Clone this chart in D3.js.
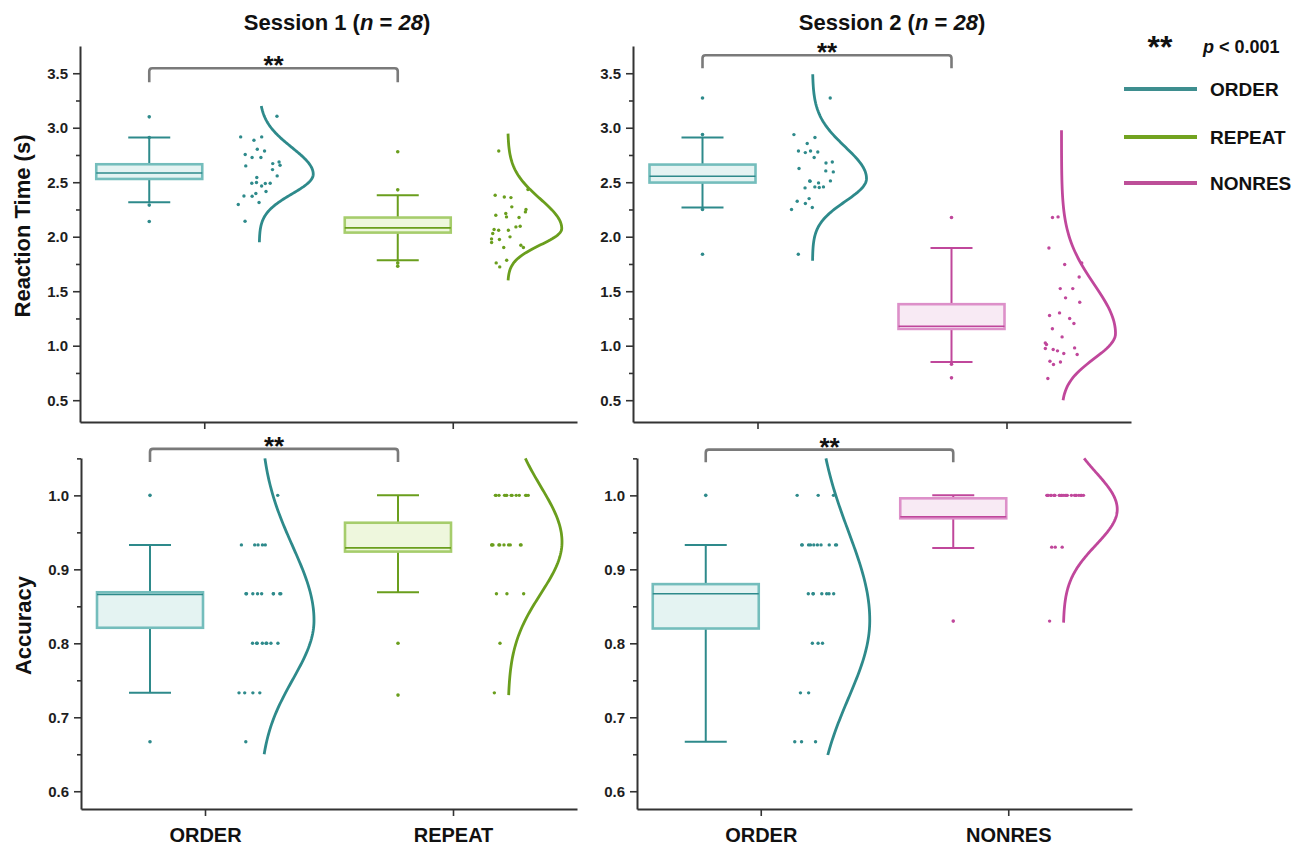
<!DOCTYPE html>
<html>
<head>
<meta charset="utf-8">
<script src="https://cdn.jsdelivr.net/npm/d3@7"></script>
<style>
  body { margin: 0; background: #fff; }
  svg { display: block; font-family: Arial, "Liberation Sans", sans-serif; }
</style>
</head>
<body>
<script>
// categories per session
const groupsS1 = ["ORDER", "REPEAT"];
const groupsS2 = ["ORDER", "NONRES"];

// tick values
const rtTicks = [0.5, 1.0, 1.5, 2.0, 2.5, 3.0, 3.5];
const rtMinor = [0.75, 1.25, 1.75, 2.25, 2.75, 3.25];
const accTicks = [0.6, 0.7, 0.8, 0.9, 1.0];
const accMinor = [0.65, 0.75, 0.85, 0.95, 1.05];

// single subject values (n = 28)
const rtS1Order = [3.105, 2.916, 2.916, 2.885, 2.803, 2.787, 2.754, 2.727, 2.727, 2.686, 2.671, 2.65, 2.656, 2.616,
  2.543, 2.558, 2.497, 2.488, 2.49, 2.49, 2.466, 2.415, 2.396, 2.374, 2.372, 2.314, 2.296, 2.142];
const rtS1Repeat = [2.787, 2.365, 2.381, 2.359, 2.433, 2.228, 2.182, 2.176, 2.274, 2.25, 2.213, 2.197, 2.09, 2.096,
  2.06, 2.06, 2.029, 1.98, 1.974, 1.947, 1.922, 1.999, 1.901, 1.901, 1.784, 1.76, 1.723, 2.066];
const rtS2Order = [3.273, 2.937, 2.91, 2.855, 2.787, 2.778, 2.787, 2.772, 2.727, 2.686, 2.677, 2.626, 2.595, 2.604,
  2.509, 2.512, 2.512, 2.494, 2.448, 2.457, 2.457, 2.451, 2.35, 2.326, 2.305, 2.268, 2.25, 1.839];
const rtS2Nonres = [2.176, 2.182, 1.897, 1.745, 1.76, 1.631, 1.524, 1.524, 1.439, 1.399, 1.301, 1.277, 1.25, 1.204,
  1.155, 1.081, 1.011, 1.026, 0.965, 0.974, 0.98, 0.929, 0.953, 0.919, 0.851, 0.858, 0.827, 0.699];

const accS1Order = [1.0, 0.933, 0.933, 0.933, 0.933, 0.933, 0.867, 0.867, 0.867, 0.867, 0.867, 0.867, 0.867, 0.867,
  0.867, 0.8, 0.8, 0.8, 0.8, 0.8, 0.8, 0.8, 0.8, 0.733, 0.733, 0.733, 0.733, 0.667];
const accS1Repeat = [1.0, 1.0, 1.0, 1.0, 1.0, 1.0, 1.0, 1.0, 1.0, 1.0, 1.0, 1.0, 1.0, 0.933,
  0.933, 0.933, 0.933, 0.933, 0.933, 0.933, 0.933, 0.933, 0.933, 0.867, 0.867, 0.867, 0.8, 0.733];
const accS2Order = [1.0, 1.0, 1.0, 0.933, 0.933, 0.933, 0.933, 0.933, 0.933, 0.933, 0.933, 0.933, 0.933, 0.867,
  0.867, 0.867, 0.867, 0.867, 0.867, 0.867, 0.8, 0.8, 0.8, 0.733, 0.733, 0.667, 0.667, 0.667];
const accS2Nonres = [1.0, 1.0, 1.0, 1.0, 1.0, 1.0, 1.0, 1.0, 1.0, 1.0, 1.0, 1.0, 1.0, 1.0,
  1.0, 1.0, 1.0, 1.0, 1.0, 1.0, 1.0, 1.0, 1.0, 1.0, 0.93, 0.93, 0.93, 0.83];

// box stats: [whisker low, q1, median, q3, whisker high]
const boxRtS1 = [[2.317, 2.53, 2.585, 2.665, 2.91], [1.784, 2.038, 2.081, 2.176, 2.381]];
const boxRtS2 = [[2.268, 2.497, 2.555, 2.662, 2.91], [0.851, 1.154, 1.179, 1.381, 1.897]];
const boxAccS1 = [[0.733, 0.821, 0.866, 0.869, 0.933], [0.869, 0.924, 0.929, 0.963, 1.0]];
const boxAccS2 = [[0.667, 0.82, 0.867, 0.88, 0.933], [0.929, 0.969, 0.971, 0.996, 1.0]];

// marker dots drawn on the box column
const markRtS1 = [[3.1, 2.91, 2.29, 2.14], [2.78, 2.43, 1.76, 1.73]];
const markRtS2 = [[3.273, 2.937, 2.25, 1.839], [2.176, 0.83, 0.705]];
const markAccS1 = [[1.0, 0.667], [0.8, 0.73]];
const markAccS2 = [[1.0], [0.83]];

// fitted curves: [mode, sigma below, sigma above, from, to]
const fitRtS1 = [[2.573, 0.18, 0.245, 1.95, 3.2], [2.075, 0.15, 0.27, 1.6, 2.946]];
const fitRtS2 = [[2.534, 0.21, 0.29, 1.78, 3.49], [1.112, 0.23, 0.45, 0.5, 2.977]];
const fitAccS1 = [[0.831, 0.08, 0.1, 0.65, 1.05], [0.937, 0.07, 0.075, 0.73, 1.05]];
const fitAccS2 = [[0.831, 0.105, 0.12, 0.649, 1.05], [0.981, 0.048, 0.05, 0.828, 1.05]];

// colours per group
const colors = {
  ORDER: { dark: "#2e8a8b", light: "#74bdbc", fill: "#e4f3f2", legend: "#3e8e8f" },
  REPEAT: { dark: "#6a9e1d", light: "#a6cd6c", fill: "#eef7dd", legend: "#72a320" },
  NONRES: { dark: "#c0479b", light: "#dd90c9", fill: "#f8eaf4", legend: "#bd4f98" },
};

var svg = d3.select("body").append("svg").attr("width", 1305).attr("height", 845);

var panels = [
  { x0: 80, x1: 577, y0: 46, y1: 422, cats: groupsS1, dom: [0.3, 3.75], ticks: rtTicks, minor: rtMinor,
    vals: [rtS1Order, rtS1Repeat], box: boxRtS1, mark: markRtS1, fit: fitRtS1, labels: false,
    bracket: [3.546, 3.417], yTitle: "Reaction Time (s)" },
  { x0: 633, x1: 1131, y0: 46, y1: 422, cats: groupsS2, dom: [0.3, 3.75], ticks: rtTicks, minor: rtMinor,
    vals: [rtS2Order, rtS2Nonres], box: boxRtS2, mark: markRtS2, fit: fitRtS2, labels: false,
    bracket: [3.665, 3.546] },
  { x0: 81, x1: 577, y0: 458, y1: 809, cats: groupsS1, dom: [0.576, 1.0505], ticks: accTicks, minor: accMinor,
    vals: [accS1Order, accS1Repeat], box: boxAccS1, mark: markAccS1, fit: fitAccS1, labels: true,
    bracket: [1.0628, 1.045], yTitle: "Accuracy" },
  { x0: 637, x1: 1132, y0: 458, y1: 809, cats: groupsS2, dom: [0.576, 1.0505], ticks: accTicks, minor: accMinor,
    vals: [accS2Order, accS2Nonres], box: boxAccS2, mark: markAccS2, fit: fitAccS2, labels: true,
    bracket: [1.0618, 1.0446] },
];

// offsets from the category tick, px
var BOX_OFF = -55, BOX_HALF = 53, CAP_HALF = 21;
var DOT_X0 = 34, DOT_SPAN = 42;
var CURVE_OFF = 55, CURVE_AMP = 54;

// fixed scatter spread for the raw points (same every render)
function jitter(i) {
  var s = Math.sin((i + 1) * 12.9898) * 43758.5453;
  return s - Math.floor(s);
}

panels.forEach(function (p) {
  var x = d3.scalePoint().domain(p.cats).range([p.x0, p.x1]).padding(0.5);
  var y = d3.scaleLinear().domain(p.dom).range([p.y1, p.y0]);
  var g = svg.append("g");

  // axes
  var yAxis = g.append("g").attr("transform", "translate(" + p.x0 + ",0)")
    .call(d3.axisLeft(y).tickValues(p.ticks).tickSize(7).tickSizeOuter(0).tickPadding(5)
      .tickFormat(d3.format(".1f")));
  g.append("g").attr("transform", "translate(" + p.x0 + ",0)")
    .call(d3.axisLeft(y).tickValues(p.minor).tickSize(4).tickFormat(""))
    .select(".domain").remove();
  var xAxis = g.append("g").attr("transform", "translate(0," + p.y1 + ")")
    .call(d3.axisBottom(x).tickSize(7).tickSizeOuter(0).tickPadding(12)
      .tickFormat(p.labels ? null : ""));
  g.selectAll(".domain").attr("stroke", "#333").attr("stroke-width", 2);
  g.selectAll(".tick line").attr("stroke", "#333").attr("stroke-width", 1.6);
  yAxis.selectAll("text").attr("font-size", "15px").attr("font-weight", "bold")
    .attr("fill", "#1e1e1e").attr("font-family", "Arial, 'Liberation Sans', sans-serif");
  xAxis.selectAll("text").attr("font-size", "20px").attr("font-weight", "bold")
    .attr("fill", "#111").attr("font-family", "Arial, 'Liberation Sans', sans-serif");

  p.cats.forEach(function (cat, ci) {
    var c = colors[cat];
    var cx = x(cat) + BOX_OFF;
    var b = p.box[ci];

    // whisker
    g.append("line").attr("x1", cx).attr("x2", cx).attr("y1", y(b[0])).attr("y2", y(b[4]))
      .attr("stroke", c.dark).attr("stroke-width", 2);
    [b[0], b[4]].forEach(function (v) {
      g.append("line").attr("x1", cx - CAP_HALF).attr("x2", cx + CAP_HALF)
        .attr("y1", y(v)).attr("y2", y(v)).attr("stroke", c.dark).attr("stroke-width", 2);
    });
    // box
    g.append("rect").attr("x", cx - BOX_HALF).attr("width", BOX_HALF * 2)
      .attr("y", y(b[3])).attr("height", y(b[1]) - y(b[3]))
      .attr("fill", c.fill).attr("stroke", c.light).attr("stroke-width", 2.6);
    g.append("line").attr("x1", cx - BOX_HALF).attr("x2", cx + BOX_HALF)
      .attr("y1", y(b[2])).attr("y2", y(b[2])).attr("stroke", c.dark).attr("stroke-width", 1.6);

    // marker dots on the box column
    g.selectAll(null).data(p.mark[ci]).enter().append("circle")
      .attr("cx", cx).attr("cy", function (d) { return y(d); }).attr("r", 1.8).attr("fill", c.dark);

    // scattered raw points
    g.selectAll(null).data(p.vals[ci]).enter().append("circle")
      .attr("cx", function (d, i) { return x(cat) + DOT_X0 + jitter(i + ci * 31) * DOT_SPAN; })
      .attr("cy", function (d) { return y(d); })
      .attr("r", 1.7).attr("fill", c.dark);

    // half density curve
    var f = p.fit[ci];
    var base = x(cat) + CURVE_OFF;
    var steps = d3.range(0, 121).map(function (k) { return f[3] + (f[4] - f[3]) * k / 120; });
    var line = d3.line()
      .x(function (v) {
        var s = v < f[0] ? f[1] : f[2];
        return base + CURVE_AMP * Math.exp(-((v - f[0]) * (v - f[0])) / (2 * s * s));
      })
      .y(function (v) { return y(v); });
    g.append("path").datum(steps).attr("d", line).attr("fill", "none")
      .attr("stroke", c.dark).attr("stroke-width", 2.8);
  });

  // significance bracket
  var bx0 = x(p.cats[0]) + BOX_OFF, bx1 = x(p.cats[1]) + BOX_OFF;
  var by = y(p.bracket[0]), bl = y(p.bracket[1]);
  g.append("path")
    .attr("d", "M" + bx0 + "," + bl + "V" + (by + 3) + "Q" + bx0 + "," + by + " " + (bx0 + 3) + "," + by +
      "H" + (bx1 - 3) + "Q" + bx1 + "," + by + " " + bx1 + "," + (by + 3) + "V" + bl)
    .attr("fill", "none").attr("stroke", "#7a7a7a").attr("stroke-width", 2.6);
  g.append("text").attr("x", (bx0 + bx1) / 2).attr("y", by + 6)
    .attr("text-anchor", "middle").attr("font-size", "26px").attr("font-weight", "bold")
    .attr("fill", "#111").text("**");

  if (p.yTitle) {
    g.append("text")
      .attr("transform", "translate(" + (p.x0 - 50) + "," + ((p.y0 + p.y1) / 2 - 8) + ") rotate(-90)")
      .attr("text-anchor", "middle").attr("font-size", "22px").attr("font-weight", "bold")
      .attr("fill", "#111").text(p.yTitle);
  }
});

// session titles
[["Session 1", 337], ["Session 2", 892]].forEach(function (t) {
  var txt = svg.append("text").attr("x", t[1]).attr("y", 30).attr("text-anchor", "middle")
    .attr("font-size", "22px").attr("font-weight", "bold").attr("fill", "#111");
  txt.append("tspan").text(t[0] + " (");
  txt.append("tspan").attr("font-style", "italic").text("n");
  txt.append("tspan").text(" = ");
  txt.append("tspan").attr("font-style", "italic").text("28");
  txt.append("tspan").text(")");
});

// legend
var legend = svg.append("g");
legend.append("text").attr("x", 1160).attr("y", 58).attr("text-anchor", "middle")
  .attr("font-size", "32px").attr("font-weight", "bold").attr("fill", "#111").text("**");
var pt = legend.append("text").attr("x", 1203).attr("y", 53).attr("font-size", "18px")
  .attr("font-weight", "bold").attr("fill", "#111");
pt.append("tspan").attr("font-style", "italic").text("p");
pt.append("tspan").text(" < 0.001");

var legendItems = ["ORDER", "REPEAT", "NONRES"];
var legendY = [89, 137, 183];
legendItems.forEach(function (name, i) {
  legend.append("line").attr("x1", 1124).attr("x2", 1197).attr("y1", legendY[i]).attr("y2", legendY[i])
    .attr("stroke", colors[name].legend).attr("stroke-width", 3.8);
  legend.append("text").attr("x", 1210).attr("y", legendY[i] + 7).attr("font-size", "19px")
    .attr("font-weight", "bold").attr("fill", "#111").text(name);
});
</script>
</body>
</html>
